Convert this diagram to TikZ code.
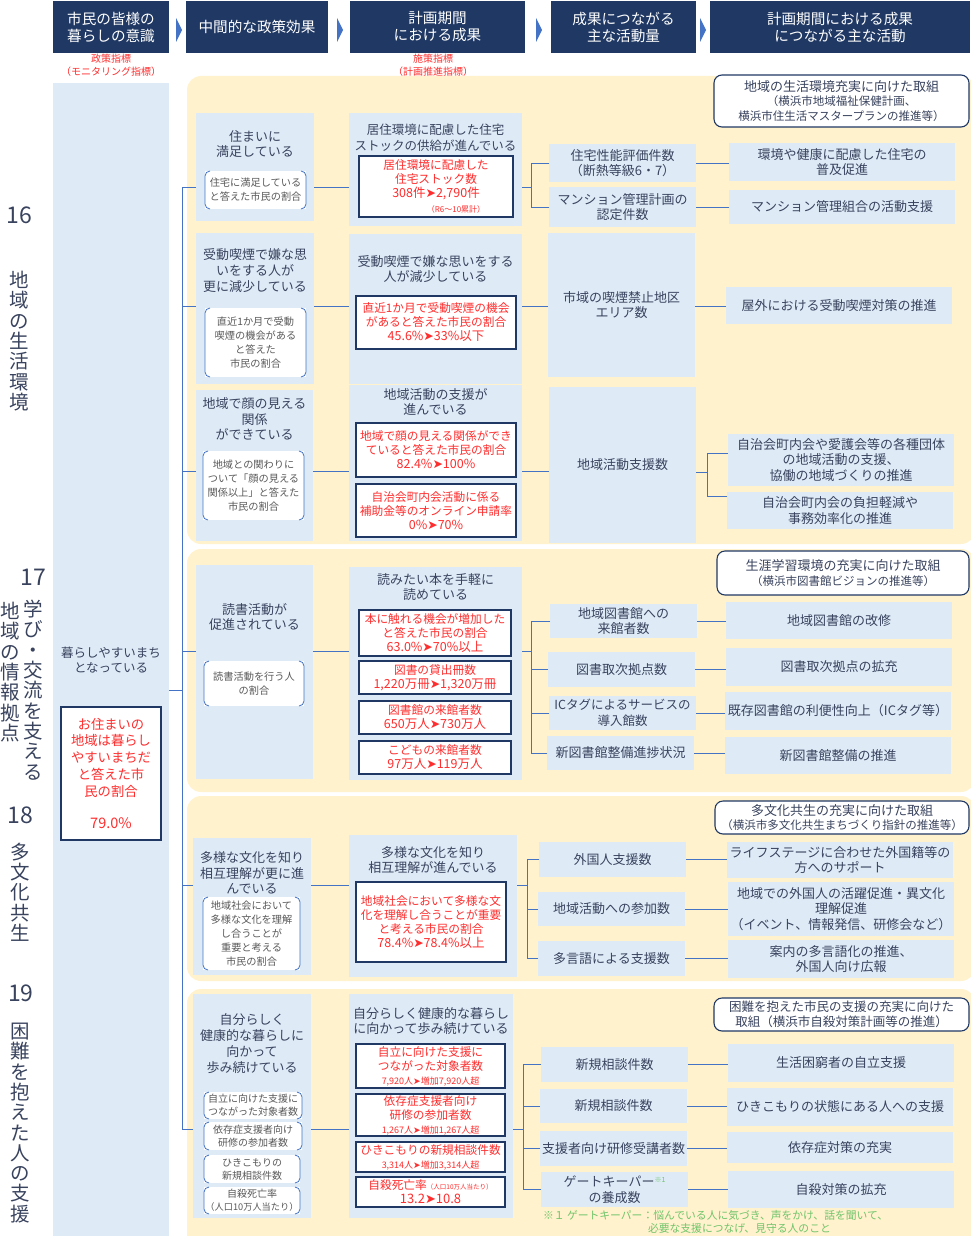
\documentclass[tikz,border=0pt]{standalone}
\usepackage{fontspec}
\setmainfont{Noto Sans CJK JP}
\newfontfamily\dejavu{DejaVu Sans}
\usepackage{tikz}

\definecolor{navy}{HTML}{1F3864}
\definecolor{paleblue}{HTML}{DEEBF7}
\definecolor{paleyellow}{HTML}{FFF2CC}
\definecolor{linkblue}{HTML}{4472C4}
\definecolor{ink}{HTML}{39435E}
\definecolor{kpired}{HTML}{FF2D2D}
\definecolor{subgray}{HTML}{595959}
\definecolor{notegreen}{HTML}{70C46C}

\newcommand{\fs}[2]{\fontsize{#1}{#2}\selectfont}
\newcommand{\tri}{{\dejavu\char"27A4}}
% box from its pixel corners
\newcommand{\bx}[7][]{\node[#1, minimum width={(#5-#3)*1pt}, minimum height={(#6-#4)*1pt}] (#2) at ({(#3+#5)/2},{(#4+#6)/2}) {#7};}
% red target box, corners are the outer edge of the frame
\newcommand{\kx}[7][]{\node[kpi, #1, minimum width={(#5-#3-2.4)*1pt}, minimum height={(#6-#4-2.4)*1pt}] (#2) at ({(#3+#5)/2},{(#4+#6)/2}) {#7};}
% bracket frame of an indicator box
\newcommand{\brk}[1]{%
  \draw[brk] ([xshift=5pt]#1.north west) -- (#1.north west) -- (#1.south west) -- ([xshift=5pt]#1.south west);
  \draw[brk] ([xshift=-5pt]#1.north east) -- (#1.north east) -- (#1.south east) -- ([xshift=-5pt]#1.south east);}

\tikzset{
  hdr/.style={fill=navy, text=white, font=\fs{14.6}{17}},
  lbox/.style={fill=paleblue},
  ttl/.style={text=ink, font=\fs{13}{15.7}},
  actbox/.style={fill=paleblue, text=ink, font=\fs{13}{15.7}},
  kpi/.style={draw=navy, line width=2.4pt, fill=white, text=kpired, font=\fs{11.7}{14}},
  subbox/.style={fill=white, text=subgray, font=\fs{10.2}{13.8}},
  brk/.style={draw=linkblue, line width=0.8pt, rounded corners=5pt},
  aimbox/.style={draw=navy, line width=1.1pt, rounded corners=8pt, fill=white, text=ink, font=\fs{11.5}{14.5}},
  secpanel/.style={fill=paleyellow, rounded corners=14pt},
  conn/.style={draw=linkblue, line width=1pt},
  chev/.style={fill=linkblue},
  rednote/.style={text=kpired, font=\fs{10}{13}},
  num/.style={text=ink, font=\fs{23}{24}},
  vlab/.style={text=ink, font=\fs{19.5}{20.3}}
}

\begin{document}
\begin{tikzpicture}[x=1pt, y=-1pt, every node/.style={inner sep=0pt, outer sep=0pt, align=center}]
    \useasboundingbox (0,0) rectangle (970,1236);

    % header row
    \bx[hdr]{h1}{53}{1}{169}{53}{市民の皆様の\\暮らしの意識}
    \bx[hdr]{h2}{186}{1}{328}{53}{中間的な政策効果}
    \bx[hdr]{h3}{350}{1}{525}{53}{計画期間\\における成果}
    \bx[hdr]{h4}{551}{1}{696}{53}{成果につながる\\主な活動量}
    \bx[hdr]{h5}{710}{1}{970}{53}{計画期間における成果\\につながる主な活動}
    \foreach \cx in {176,337,536,700}
        \fill[chev] (\cx,18) -- (\cx+6,30) -- (\cx,42) -- cycle;
    \node[rednote] (n1) at (111,65.5) {政策指標\\（モニタリング指標）};
    \node[rednote] (n3) at (433,65.5) {施策指標\\（計画推進指標）};

    % left column
    \bx[lbox]{col1}{53}{83}{169}{1236}{}
    \node[ttl, font=\fs{12.5}{15.5}] (kurashi) at (111,660) {暮らしやすいまち\\となっている};
    \kx[font=\fs{13.3}{16.7}]{kpi1}{60}{706}{162}{841}{お住まいの\\地域は暮らし\\やすいまちだ\\と答えた市\\民の割合\\[16pt]{\fs{14.5}{16}79.0\%}}

    % section labels
    \node[num] (n16) at (19,215) {16};
    \node[vlab] (v16) at (19,341) {地\\域\\の\\生\\活\\環\\境};
    \node[num] (n17) at (33.5,577) {17};
    \node[vlab] (v17) at (33,690) {学\\び\\・\\交\\流\\を\\支\\え\\る};
    \node[vlab] (v17b) at (10,672) {地\\域\\の\\情\\報\\拠\\点};
    \node[num] (n18) at (20,815) {18};
    \node[vlab] (v18) at (20,892) {多\\文\\化\\共\\生};
    \node[num] (n19) at (21,993) {19};
    \node[vlab] (v19) at (20,1123) {困\\難\\を\\抱\\え\\た\\人\\の\\支\\援};

    % 16 panel
    \bx[secpanel]{p16}{187}{76}{975}{544}{}
    \bx[lbox]{e16a}{196}{113}{314}{221}{}
    \node[ttl] (e16at) at (255,144) {住まいに\\満足している};
    \bx[subbox]{s16a}{205}{171}{306}{209}{住宅に満足している\\と答えた市民の割合}
    \brk{s16a}
    \bx[lbox]{e16b}{196}{233}{314}{384}{}
    \node[ttl] (e16bt) at (255,270.5) {受動喫煙で嫌な思\\いをする人が\\更に減少している};
    \bx[subbox]{s16b}{205}{308}{306}{377}{直近1か月で受動\\喫煙の機会がある\\と答えた\\市民の割合}
    \brk{s16b}
    \bx[lbox]{e16c}{196}{390}{313}{541}{}
    \node[ttl] (e16ct) at (254.5,419) {地域で顔の見える\\関係\\ができている};
    \bx[subbox]{s16c}{203}{451}{304}{520}{地域との関わりに\\ついて「顔の見える\\関係以上」と答えた\\市民の割合}
    \brk{s16c}

    \bx[lbox]{o16a}{349}{113}{522}{226}{}
    \node[ttl, font=\fs{12.5}{15.5}] (o16at) at (435.5,137.5) {居住環境に配慮した住宅\\ストックの供給が進んでいる};
    \kx{t16a}{358}{155}{514}{218}{居住環境に配慮した\\住宅ストック数\\{\fs{12.5}{14}308件\tri 2,790件}\\[1pt]\hspace*{40pt}{\fs{8}{9}（R6～10累計）}}
    \bx[lbox]{o16b}{349}{234}{522}{384}{}
    \node[ttl] (o16bt) at (435.5,269) {受動喫煙で嫌な思いをする\\人が減少している};
    \kx{t16b}{355}{295}{517}{350}{直近1か月で受動喫煙の機会\\があると答えた市民の割合\\{\fs{12.5}{14}45.6\%\tri 33\%以下}}
    \bx[lbox]{o16c}{349}{385}{522}{541}{}
    \node[ttl] (o16ct) at (435.5,402) {地域活動の支援が\\進んでいる};
    \kx{t16c1}{355}{422}{517}{478}{地域で顔の見える関係ができ\\ていると答えた市民の割合\\{\fs{12.5}{14}82.4\%\tri 100\%}}
    \kx{t16c2}{355}{483}{517}{538}{自治会町内会活動に係る\\補助金等のオンライン申請率\\{\fs{12.5}{14}0\%\tri 70\%}}

    \bx[actbox]{a16a1}{549}{144}{696}{182}{住宅性能評価件数\\（断熱等級6・7）}
    \bx[actbox]{a16a2}{549}{187}{696}{227}{マンション管理計画の\\認定件数}
    \bx[actbox]{a16b}{548}{233}{695}{377}{市域の喫煙禁止地区\\エリア数}
    \bx[actbox]{a16c}{549}{387}{696}{543}{地域活動支援数}

    \bx[aimbox]{g16}{714}{75}{969}{127}{{\fs{13}{15}地域の生活環境充実に向けた取組}\\（横浜市地域福祉保健計画、\\横浜市住生活マスタープランの推進等）}
    \bx[actbox]{w16a1}{729}{143}{955}{181}{環境や健康に配慮した住宅の\\普及促進}
    \bx[actbox]{w16a2}{729}{190}{955}{224}{マンション管理組合の活動支援}
    \bx[actbox]{w16b}{726}{287}{952}{324}{屋外における受動喫煙対策の推進}
    \bx[actbox]{w16c1}{728}{434}{954}{486}{自治会町内会や愛護会等の各種団体\\の地域活動の支援、\\協働の地域づくりの推進}
    \bx[actbox]{w16c2}{727}{492}{953}{529}{自治会町内会の負担軽減や\\事務効率化の推進}

    % 17 panel
    \bx[secpanel]{p17}{187}{549}{975}{792}{}
    \bx[lbox]{e17}{196}{565}{313}{779}{}
    \node[ttl] (e17t) at (254.5,617) {読書活動が\\促進されている};
    \bx[subbox]{s17}{204}{661}{304}{706}{読書活動を行う人\\の割合}
    \brk{s17}
    \bx[lbox]{o17}{349}{567}{522}{780}{}
    \node[ttl] (o17t) at (435.5,587) {読みたい本を手軽に\\読めている};
    \kx{t17a}{358}{609}{512}{657}{本に触れる機会が増加した\\と答えた市民の割合\\{\fs{12.5}{14}63.0\%\tri 70\%以上}}
    \kx{t17b}{358}{660}{512}{695}{図書の貸出冊数\\{\fs{12.5}{14}1,220万冊\tri 1,320万冊}}
    \kx{t17c}{358}{700}{512}{735}{図書館の来館者数\\{\fs{12.5}{14}650万人\tri 730万人}}
    \kx{t17d}{358}{740}{512}{775}{こどもの来館者数\\{\fs{12.5}{14}97万人\tri 119万人}}

    \bx[actbox]{a17a}{550}{604}{697}{638}{地域図書館への\\来館者数}
    \bx[actbox]{a17b}{548}{652}{695}{687}{図書取次拠点数}
    \bx[actbox, font=\fs{12.5}{15.5}]{a17c}{549}{696}{696}{730}{ICタグによるサービスの\\導入館数}
    \bx[actbox]{a17d}{547}{736}{694}{770}{新図書館整備進捗状況}

    \bx[aimbox]{g17}{717}{551}{969}{595}{{\fs{13}{15}生涯学習環境の充実に向けた取組}\\（横浜市図書館ビジョンの推進等）}
    \bx[actbox]{w17a}{726}{602}{952}{639}{地域図書館の改修}
    \bx[actbox]{w17b}{726}{648}{952}{686}{図書取次拠点の拡充}
    \bx[actbox]{w17c}{725}{692}{951}{730}{既存図書館の利便性向上（ICタグ等）}
    \bx[actbox]{w17d}{725}{737}{951}{774}{新図書館整備の推進}

    % 18 panel
    \bx[secpanel]{p18}{187}{796}{975}{981}{}
    \bx[lbox]{e18}{193}{838}{311}{975}{}
    \node[ttl] (e18t) at (252,873) {多様な文化を知り\\相互理解が更に進\\んでいる};
    \bx[subbox, font=\fs{10.2}{14}]{s18}{203}{897}{300}{970}{地域社会において\\多様な文化を理解\\し合うことが\\重要と考える\\市民の割合}
    \brk{s18}
    \bx[lbox]{o18}{349}{835}{517}{977}{}
    \node[ttl] (o18t) at (433,860) {多様な文化を知り\\相互理解が進んでいる};
    \kx{t18}{355}{881}{507}{963}{地域社会において多様な文\\化を理解し合うことが重要\\と考える市民の割合\\{\fs{12.5}{14}78.4\%\tri 78.4\%以上}}

    \bx[actbox]{a18a}{539}{842}{686}{877}{外国人支援数}
    \bx[actbox]{a18b}{538}{892}{685}{926}{地域活動への参加数}
    \bx[actbox]{a18c}{538}{941}{685}{976}{多言語による支援数}

    \bx[aimbox]{g18}{715}{801}{969}{834}{{\fs{13}{15}多文化共生の充実に向けた取組}\\（横浜市多文化共生まちづくり指針の推進等）}
    \bx[actbox]{w18a}{727}{842}{953}{878}{ライフステージに合わせた外国籍等の\\方へのサポート}
    \bx[actbox]{w18b}{728}{882}{954}{936}{地域での外国人の活躍促進・異文化\\理解促進\\（イベント、情報発信、研修会など）}
    \bx[actbox]{w18c}{728}{940}{954}{978}{案内の多言語化の推進、\\外国人向け広報}

    % 19 panel
    \bx[secpanel]{p19}{187}{989}{975}{1250}{}
    \bx[lbox]{e19}{193}{994}{311}{1218}{}
    \node[ttl, font=\fs{13}{16}] (e19t) at (252,1044) {自分らしく\\健康的な暮らしに\\向かって\\歩み続けている};
    \bx[subbox, font=\fs{10}{13}]{s19a}{204}{1092}{302}{1119}{自立に向けた支援に\\つながった対象者数}
    \brk{s19a}
    \bx[subbox, font=\fs{10}{13}]{s19b}{204}{1122}{302}{1150}{依存症支援者向け\\研修の参加者数}
    \brk{s19b}
    \bx[subbox, font=\fs{10}{13}]{s19c}{204}{1155}{300}{1183}{ひきこもりの\\新規相談件数}
    \brk{s19c}
    \bx[subbox, font=\fs{10}{13}]{s19d}{204}{1187}{300}{1214}{自殺死亡率\\{\fs{9.2}{13}（人口10万人当たり）}}
    \brk{s19d}
    \bx[lbox]{o19}{349}{994}{513}{1218}{}
    \node[ttl] (o19t) at (431,1021) {自分らしく健康的な暮らし\\に向かって歩み続けている};
    \kx{t19a}{355}{1043}{506}{1089}{自立に向けた支援に\\つながった対象者数\\{\fs{9}{11}7,920人\tri 増加7,920人超}}
    \kx{t19b}{355}{1093}{506}{1137}{依存症支援者向け\\研修の参加者数\\{\fs{9}{11}1,267人\tri 増加1,267人超}}
    \kx{t19c}{355}{1141}{506}{1173}{ひきこもりの新規相談件数\\{\fs{9}{11}3,314人\tri 増加3,314人超}}
    \kx{t19d}{355}{1176}{506}{1208}{自殺死亡率{\fs{6.5}{8}（人口10万人当たり）}\\{\fs{13}{13}13.2\tri 10.8}}

    \bx[actbox]{a19a}{541}{1047}{688}{1082}{新規相談件数}
    \bx[actbox]{a19b}{540}{1089}{687}{1123}{新規相談件数}
    \bx[actbox]{a19c}{540}{1131}{687}{1166}{支援者向け研修受講者数}
    \bx[actbox]{a19d}{541}{1172}{688}{1207}{ゲートキーパー\raisebox{4pt}{\fs{7}{8}\color{notegreen}※1}\\の養成数}

    \bx[aimbox, font=\fs{12.5}{14.5}]{g19}{714}{998}{969}{1031}{困難を抱えた市民の支援の充実に向けた\\取組（横浜市自殺対策計画等の推進）}
    \bx[actbox]{w19a}{728}{1044}{954}{1082}{生活困窮者の自立支援}
    \bx[actbox]{w19b}{727}{1088}{953}{1126}{ひきこもりの状態にある人への支援}
    \bx[actbox]{w19c}{727}{1132}{953}{1163}{依存症対策の充実}
    \bx[actbox]{w19d}{728}{1171}{954}{1208}{自殺対策の拡充}

    \node[anchor=north west, align=left, text=notegreen, font=\fs{10.8}{13}] (fn) at (543,1210) {※１ ゲートキーパー：悩んでいる人に気づき、声をかけ、話を聞いて、\\\hspace*{105pt}必要な支援につなげ、見守る人のこと};

    % connectors
    \coordinate (hub) at (182,690);
    \coordinate (j16a) at (182,187);
    \coordinate (j16b) at (182,306);
    \coordinate (j16c) at (182,471);
    \coordinate (j17) at (182,651);
    \coordinate (j18) at (182,885);
    \coordinate (j19) at (182,1129);
    \draw[conn] (j16a) -- (j19);
    \draw[conn] (col1.east |- hub) -- (hub);
    \foreach \s in {16a,16b,16c,17,18,19} {
        \draw[conn] (j\s) -- (j\s -| e\s.west);
        \draw[conn] (j\s -| e\s.east) -- (j\s -| o\s.west);
    }

    \coordinate (b16a) at (531,187);
    \draw[conn] (j16a -| o16a.east) -- (b16a);
    \draw[conn] (a16a1.west) -| (b16a);
    \draw[conn] (a16a2.west) -| (b16a);
    \draw[conn] (a16a1.east) -- (a16a1.east -| w16a1.west);
    \draw[conn] (a16a2.east) -- (a16a2.east -| w16a2.west);
    \draw[conn] (j16b -| o16b.east) -- (j16b -| a16b.west);
    \draw[conn] (j16b -| a16b.east) -- (j16b -| w16b.west);
    \draw[conn] (j16c -| o16c.east) -- (j16c -| a16c.west);
    \coordinate (b16c) at (707,472);
    \draw[conn] (b16c -| a16c.east) -- (b16c);
    \draw[conn] ([yshift=7pt]w16c1.west) -| (b16c);
    \draw[conn] ([yshift=14pt]w16c2.west) -| (b16c);

    \coordinate (b17) at (531,651);
    \draw[conn] (j17 -| o17.east) -- (b17);
    \coordinate (b18) at (527,885);
    \draw[conn] (j18 -| o18.east) -- (b18);
    \coordinate (b19) at (523,1129);
    \draw[conn] (j19 -| o19.east) -- (b19);
    \foreach \k/\w/\b in {a17a/w17a/b17, a17b/w17b/b17, a17c/w17c/b17, a17d/w17d/b17,
                          a18a/w18a/b18, a18b/w18b/b18, a18c/w18c/b18,
                          a19a/w19a/b19, a19b/w19b/b19, a19c/w19c/b19, a19d/w19d/b19} {
        \draw[conn] (\k.west) -| (\b);
        \draw[conn] (\k.east) -- (\k.east -| \w.west);
    }
\end{tikzpicture}
\end{document}
